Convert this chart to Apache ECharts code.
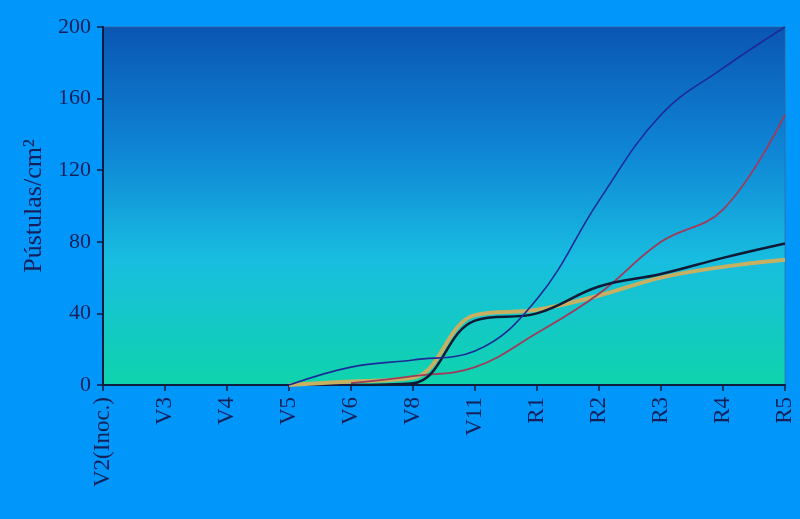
<!DOCTYPE html>
<html>
<head>
<meta charset="utf-8">
<script src="https://cdn.jsdelivr.net/npm/echarts@6/dist/echarts.min.js"></script>
<style>
html,body{margin:0;padding:0;background:#0096fa;}
#c{width:800px;height:519px;}
</style>
</head>
<body>
<div id="c"></div>
<script>
const categories = ['V2(Inoc.)','V3','V4','V5','V6','V8','V11','R1','R2','R3','R4','R5'];
const blueSeries   = [null,null,null,0,10,14,19,48,103,151,177,200];
const redSeries    = [null,null,null,null,1,5,10,29,51,80,98,151];
const blackSeries  = [null,null,null,null,0,1,36,40,55,62,71,79];
const yellowSeries = [null,null,null,0,2,4,39,42,50,60,66,70];
const yTicks = [0,40,80,120,160,200];

const chart = echarts.init(document.getElementById('c'));
const txt = '#14205a';
const font = "'Liberation Serif', 'DejaVu Serif', serif";
chart.setOption({
  backgroundColor: '#0096fa',
  animation: false,
  grid: {
    left: 103, right: 15, top: 27, bottom: 134,
    show: true,
    borderColor: 'rgba(70,95,135,0.6)',
    borderWidth: 1,
    backgroundColor: {
      type: 'linear', x: 0, y: 0, x2: 0, y2: 1,
      colorStops: [
        {offset: 0, color: '#0a56b2'},
        {offset: 0.35, color: '#0f86d6'},
        {offset: 0.65, color: '#18bde0'},
        {offset: 1, color: '#0fd4ac'}
      ]
    }
  },
  xAxis: {
    type: 'category',
    data: categories,
    boundaryGap: false,
    axisLine: {lineStyle: {color: '#101c40', width: 2}},
    axisTick: {lineStyle: {color: '#101c40', width: 1.5}, length: 6},
    axisLabel: {rotate: 90, color: txt, fontFamily: font, fontSize: 23, margin: 12}
  },
  yAxis: {
    type: 'value',
    min: yTicks[0], max: yTicks[yTicks.length-1], interval: 40,
    name: 'Pústulas/cm²',
    nameLocation: 'middle',
    nameRotate: 90,
    nameGap: 54,
    nameTextStyle: {color: txt, fontFamily: font, fontSize: 26},
    axisLine: {show: true, lineStyle: {color: '#101c40', width: 2}},
    axisTick: {show: true, lineStyle: {color: '#101c40', width: 1.5}, length: 6},
    axisLabel: {color: txt, fontFamily: font, fontSize: 22, margin: 12},
    splitLine: {show: false}
  },
  series: [
    {type: 'line', data: yellowSeries, smooth: 0.4, symbol: 'none', lineStyle: {color: '#c8b062', width: 4}},
    {type: 'line', data: redSeries, smooth: 0.4, symbol: 'none', lineStyle: {color: '#a03a5a', width: 1.8}},
    {type: 'line', data: blackSeries, smooth: 0.4, symbol: 'none', lineStyle: {color: '#0e1a36', width: 2.5}},
    {type: 'line', data: blueSeries, smooth: 0.4, symbol: 'none', lineStyle: {color: '#1c2a96', width: 1.6}}
  ]
});
</script>
</body>
</html>
